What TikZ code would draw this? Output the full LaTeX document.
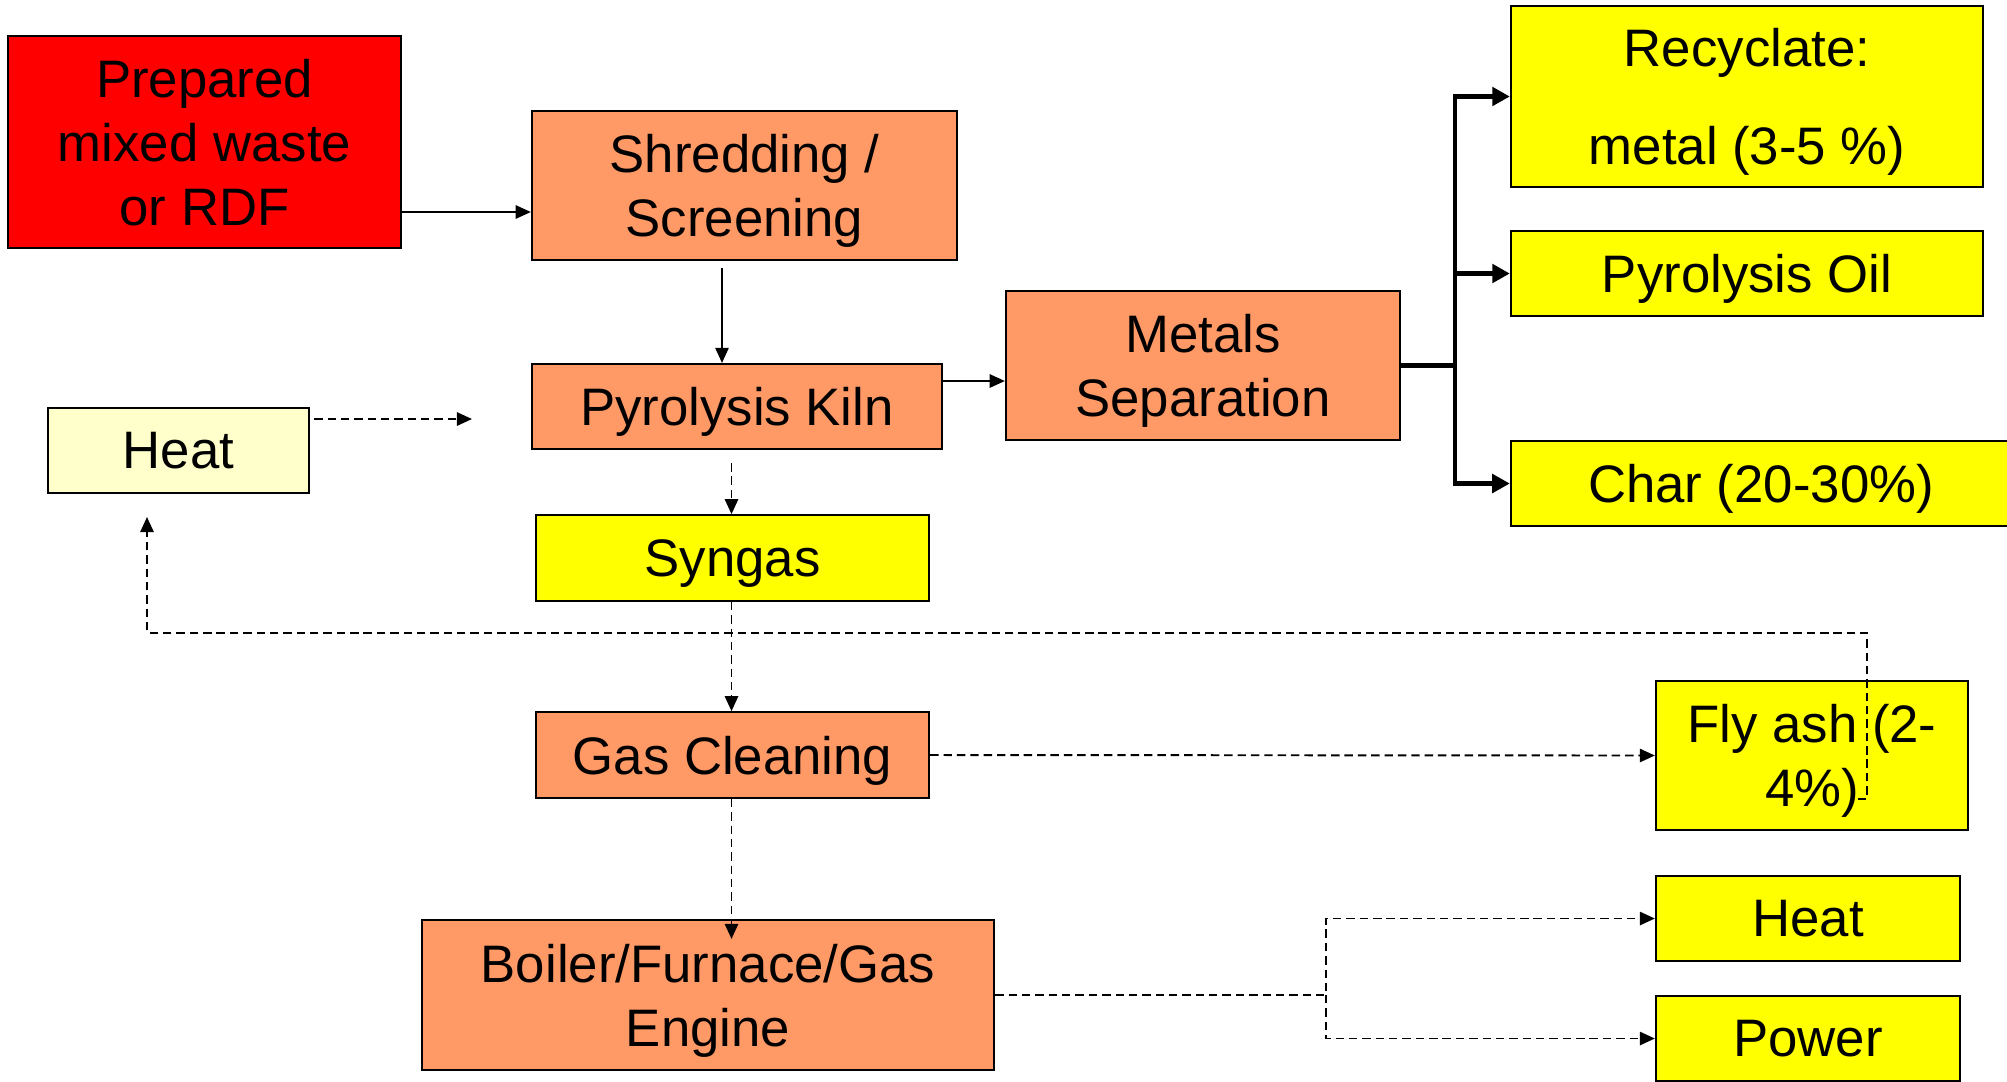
\documentclass[tikz,border=0pt]{standalone}
\usepackage{fontspec}
\setmainfont{Liberation Sans}
\usetikzlibrary{arrows.meta}
\definecolor{wred}{HTML}{FF0000}
\definecolor{worange}{HTML}{FF9966}
\definecolor{wyellow}{HTML}{FFFF00}
\definecolor{wpale}{HTML}{FFFFCC}
\begin{document}
\begin{tikzpicture}[x=0.01cm,y=-0.01cm,
  box/.style={draw=black, line width=0.6pt, inner sep=0pt, align=center, text depth=0pt, font=\fontsize{15}{18.2}\selectfont},
  thinarr/.style={line width=0.45pt, -{Triangle[length=4.3pt,width=3.8pt]}},
  dasharr/.style={line width=0.55pt, dash pattern=on 2.4pt off 1.4pt, -{Triangle[length=4.3pt,width=3.8pt]}},
  boldarr/.style={line width=1.4pt, -{Triangle[length=5pt,width=5.2pt]}},
]
\useasboundingbox (0,0) rectangle (2007,1081);
\fill[white] (0,0) rectangle (2007,1081);
\clip (0,0) rectangle (2007,1081);

\node[box, fill=wred, minimum width=3.93cm, minimum height=2.12cm] (prep) at (204.5,142) {Prepared\\mixed waste\\or RDF};
\node[box, fill=worange, minimum width=4.25cm, minimum height=1.49cm] (shred) at (744.5,185.5) {Shredding /\\Screening};
\node[box, fill=worange, minimum width=4.10cm, minimum height=0.85cm] (kiln) at (737,406.5) {Pyrolysis Kiln};
\node[box, fill=wpale, minimum width=2.61cm, minimum height=0.85cm] (heatL) at (178.5,450.5) {Heat};
\node[box, fill=worange, minimum width=3.94cm, minimum height=1.49cm] (metals) at (1203,365.5) {Metals\\Separation};
\node[box, fill=wyellow, minimum width=4.72cm, minimum height=1.81cm] (recy) at (1747,96.5) {Recyclate:\\[9.5pt]metal (3-5 \%)};
\node[box, fill=wyellow, minimum width=4.72cm, minimum height=0.85cm] (oil) at (1747,273.5) {Pyrolysis Oil};
\node[box, fill=wyellow, minimum width=5.00cm, minimum height=0.85cm] (char) at (1761,483.5) {Char (20-30\%)};
\node[box, fill=wyellow, minimum width=3.93cm, minimum height=0.855cm] (syngas) at (732.5,558) {Syngas};
\node[box, fill=worange, minimum width=3.93cm, minimum height=0.855cm] (gasc) at (732.5,755) {Gas Cleaning};
\node[box, fill=worange, minimum width=5.72cm, minimum height=1.50cm] (boiler) at (708,995) {Boiler/Furnace/Gas\\Engine};
\node[box, fill=wyellow, minimum width=3.12cm, minimum height=1.49cm] (fly) at (1812,755.5) {Fly ash (2-\\4\%)};
\node[box, fill=wyellow, minimum width=3.04cm, minimum height=0.85cm] (heatR) at (1808,918.5) {Heat};
\node[box, fill=wyellow, minimum width=3.04cm, minimum height=0.85cm] (power) at (1808,1038.5) {Power};

\coordinate (ya) at (0,212);
\draw[thinarr] (prep.east |- ya) -- (shred.west |- ya);
\coordinate (cs) at (722,0);
\draw[thinarr] ([yshift=-0.07cm]shred.south -| cs) -- (kiln.north -| cs);
\coordinate (yk) at (0,381);
\draw[thinarr] (kiln.east |- yk) -- (metals.west |- yk);

\coordinate (heatend) at (472,419);
\draw[dasharr] ([xshift=0.04cm]heatL.east |- heatend) -- (heatend);

\coordinate (cx) at (731.5,0);
\draw[dasharr] ([yshift=-0.13cm]kiln.south -| cx) -- (syngas.north -| cx);
\draw[dasharr] (syngas.south -| cx) -- (gasc.north -| cx);
\draw[dasharr] (gasc.south -| cx) -- ([yshift=-0.2cm]boiler.north -| cx);
\draw[dasharr] (gasc.east) -- (fly.west);

\coordinate (fb0) at (1858,799);
\coordinate (fb1) at (1867,799);
\coordinate (fbtop) at (1867,632.7);
\coordinate (fbend) at (147,517);
\draw[dasharr] (fb0) -- (fb1) -- (fbtop) -| (fbend);

\coordinate (xb) at (1325.6,0);
\draw[dasharr] (boiler.east) -- (boiler.east -| xb) |- (heatR.west);
\draw[dasharr] (boiler.east -| xb) |- (power.west);

\coordinate (xm) at (1455,0);
\draw[boldarr] (metals.east) -- (metals.east -| xm) |- (recy.west);
\draw[boldarr] (metals.east -| xm) |- (oil.west);
\draw[boldarr] (metals.east -| xm) |- (char.west);
\end{tikzpicture}
\end{document}
